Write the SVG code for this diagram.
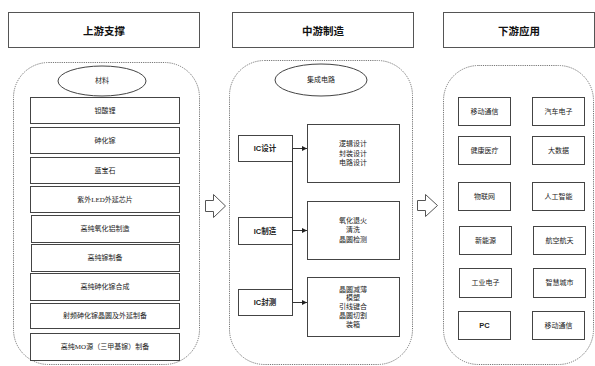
<svg xmlns="http://www.w3.org/2000/svg" width="595" height="366" viewBox="0 0 595 366">
<defs>
<style>
.hdr{fill:#fff;stroke:#555;stroke-width:1}
.ht{font-family:"Liberation Serif","Noto Sans CJK SC",serif;font-size:10.5px;font-weight:bold;fill:#111;text-anchor:middle;dominant-baseline:central}
.cont{fill:#fff;stroke:#777;stroke-width:1;stroke-dasharray:1.2,1}
.box{fill:#fff;stroke:#444;stroke-width:1}
.t{font-family:"Liberation Serif","Noto Sans CJK SC",serif;font-size:7px;fill:#222;text-anchor:middle;dominant-baseline:central}
.tb{font-family:"Liberation Sans","Noto Sans CJK SC",sans-serif;font-size:7.5px;font-weight:bold;fill:#222;text-anchor:middle;dominant-baseline:central}
.ell{fill:#fff;stroke:#444;stroke-width:1}
.ln{stroke:#333;stroke-width:1;fill:none}
.harrow{fill:#fff;stroke:#555;stroke-width:1}
</style>
<marker id="ah" markerWidth="6" markerHeight="6" refX="5" refY="3" orient="auto" markerUnits="userSpaceOnUse">
<path d="M0,0.5 L5,3 L0,5.5 Z" fill="#222"/>
</marker>
</defs>
<rect width="595" height="366" fill="#fff"/>

<g id="hdr-up"><rect class="hdr" x="8.5" y="12.5" width="191" height="35"/><text class="ht" x="104" y="31">上游支撑</text></g>
<g id="hdr-mid"><rect class="hdr" x="232.5" y="12.5" width="181" height="35"/><text class="ht" x="323" y="31">中游制造</text></g>
<g id="hdr-down"><rect class="hdr" x="443.5" y="12.5" width="151" height="35"/><text class="ht" x="519" y="31">下游应用</text></g>

<g id="cont-up"><rect class="cont" x="13.5" y="62.5" width="186" height="302" rx="35" ry="35"/></g>
<g id="cont-mid"><rect class="cont" x="229.5" y="60.5" width="183" height="304" rx="35" ry="35"/></g>
<g id="cont-down"><rect class="cont" x="443.5" y="65.5" width="150" height="299" rx="35" ry="35"/></g>

<g id="mat"><ellipse class="ell" cx="102" cy="81" rx="44" ry="15"/><text class="t" x="102" y="81">材料</text></g>
<g id="up1"><rect class="box" x="30.5" y="97.5" width="149" height="26"/><text class="t" x="105" y="110.5">钽酸锂</text></g>
<g id="up2"><rect class="box" x="30.5" y="127.5" width="149" height="26"/><text class="t" x="105" y="140.5">砷化镓</text></g>
<g id="up3"><rect class="box" x="30.5" y="157.5" width="149" height="26"/><text class="t" x="105" y="170.5">蓝宝石</text></g>
<g id="up4"><rect class="box" x="30.5" y="186.5" width="149" height="26"/><text class="t" x="105" y="199.5">紫外LED外延芯片</text></g>
<g id="up5"><rect class="box" x="31.5" y="215.5" width="148" height="27"/><text class="t" x="105" y="229">高纯氧化铝制造</text></g>
<g id="up6"><rect class="box" x="31.5" y="244.5" width="148" height="27"/><text class="t" x="105" y="258">高纯镓制备</text></g>
<g id="up7"><rect class="box" x="30.5" y="273.5" width="149" height="27"/><text class="t" x="105" y="287">高纯砷化镓合成</text></g>
<g id="up8"><rect class="box" x="30.5" y="303.5" width="149" height="25"/><text class="t" x="105" y="316">射频砷化镓晶圆及外延制备</text></g>
<g id="up9"><rect class="box" x="30.5" y="333.5" width="149" height="27"/><text class="t" x="105" y="347">高纯MO源（三甲基镓）制备</text></g>

<g id="ic"><ellipse class="ell" cx="321" cy="80" rx="46" ry="16"/><text class="t" x="321" y="80">集成电路</text></g>
<g id="icd"><rect class="box" x="238.5" y="135.5" width="54" height="26"/><text class="tb" x="265" y="148.5">IC设计</text></g>
<g id="icm"><rect class="box" x="238.5" y="217.5" width="54" height="27"/><text class="tb" x="265" y="231">IC制造</text></g>
<g id="ict"><rect class="box" x="238.5" y="289.5" width="54" height="26"/><text class="tb" x="265" y="302.5">IC封测</text></g>
<g id="icd-d"><rect class="box" x="307.5" y="124.5" width="92" height="58"/><text class="t" x="353" y="144">逻辑设计</text><text class="t" x="353" y="153.5">封装设计</text><text class="t" x="353" y="163">电路设计</text></g>
<g id="icm-d"><rect class="box" x="307.5" y="201.5" width="92" height="58"/><text class="t" x="353" y="220.5">氧化退火</text><text class="t" x="353" y="230">清洗</text><text class="t" x="353" y="239.5">晶圆检测</text></g>
<g id="ict-d"><rect class="box" x="307.5" y="277.5" width="92" height="59"/><text class="t" x="353" y="289.5">晶圆减薄</text><text class="t" x="353" y="298">模塑</text><text class="t" x="353" y="307">引线键合</text><text class="t" x="353" y="316">晶圆切割</text><text class="t" x="353" y="325">装箱</text></g>

<g id="dn1"><rect class="box" x="458.5" y="97.5" width="52" height="28"/><text class="t" x="484.5" y="111.5">移动通信</text></g>
<g id="dn2"><rect class="box" x="532.5" y="97.5" width="52" height="28"/><text class="t" x="558.5" y="111.5">汽车电子</text></g>
<g id="dn3"><rect class="box" x="458.5" y="136.5" width="52" height="28"/><text class="t" x="484.5" y="150.5">健康医疗</text></g>
<g id="dn4"><rect class="box" x="532.5" y="136.5" width="52" height="28"/><text class="t" x="558.5" y="150.5">大数据</text></g>
<g id="dn5"><rect class="box" x="458.5" y="182.5" width="52" height="28"/><text class="t" x="484.5" y="196.5">物联网</text></g>
<g id="dn6"><rect class="box" x="532.5" y="182.5" width="52" height="28"/><text class="t" x="558.5" y="196.5">人工智能</text></g>
<g id="dn7"><rect class="box" x="459.5" y="226.5" width="52" height="28"/><text class="t" x="485.5" y="240.5">新能源</text></g>
<g id="dn8"><rect class="box" x="533.5" y="226.5" width="52" height="28"/><text class="t" x="559.5" y="240.5">航空航天</text></g>
<g id="dn9"><rect class="box" x="459.5" y="268.5" width="52" height="29"/><text class="t" x="485.5" y="283">工业电子</text></g>
<g id="dn10"><rect class="box" x="533.5" y="268.5" width="52" height="29"/><text class="t" x="559.5" y="283">智慧城市</text></g>
<g id="dn11"><rect class="box" x="458.5" y="311.5" width="52" height="28"/><text class="tb" x="484.5" y="325.5">PC</text></g>
<g id="dn12"><rect class="box" x="532.5" y="311.5" width="52" height="28"/><text class="t" x="558.5" y="325.5">移动通信</text></g>

<g id="connectors">
<line class="ln" x1="292.5" y1="148.5" x2="292.5" y2="302.5"/>
<line class="ln" x1="292.5" y1="148.5" x2="307" y2="148.5" marker-end="url(#ah)"/>
<line class="ln" x1="292.5" y1="230.5" x2="307" y2="230.5" marker-end="url(#ah)"/>
<line class="ln" x1="292.5" y1="302.5" x2="307" y2="302.5" marker-end="url(#ah)"/>
<path class="harrow" d="M205.5,200.5 H213.5 V194.5 L225.5,206 L213.5,217.5 V211.5 H205.5 Z"/>
<path class="harrow" d="M417.5,200.5 H425.5 V194.5 L437.5,205.5 L425.5,216.5 V210.5 H417.5 Z"/>
</g>
</svg>
